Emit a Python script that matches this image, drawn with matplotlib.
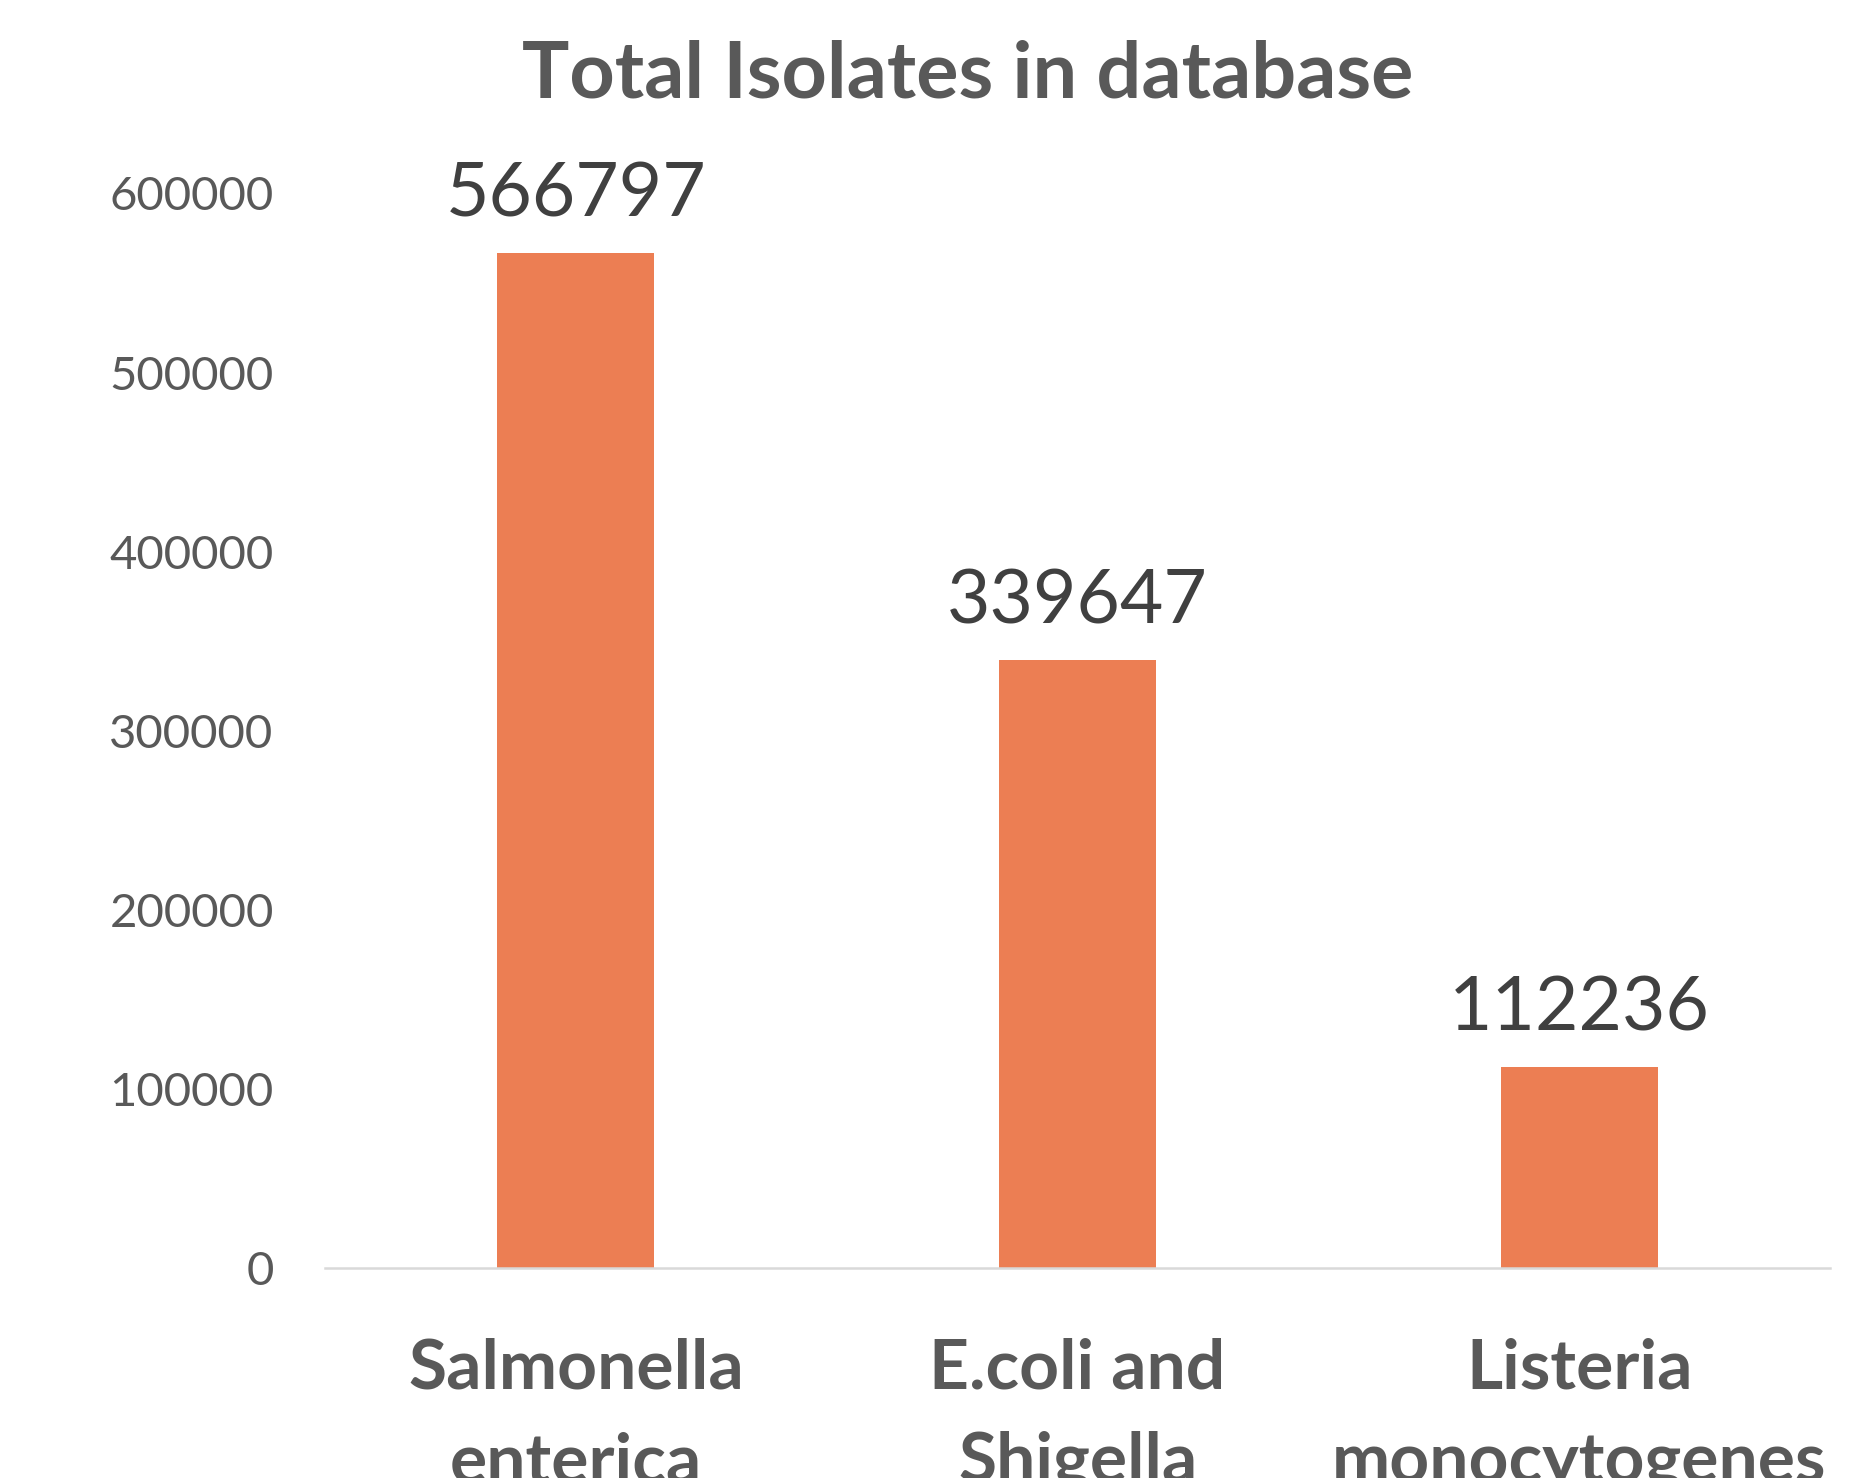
import matplotlib
matplotlib.use("Agg")
from matplotlib import pyplot as plt

categories = ["Salmonella\nenterica", "E.coli and\nShigella", "Listeria\nmonocytogenes"]
isolates = [566797, 339647, 112236]
yticks = [0, 100000, 200000, 300000, 400000, 500000, 600000]

plt.rcParams['font.family'] = ['Lato', 'DejaVu Sans']

fig = plt.figure(figsize=(18.51, 14.78), dpi=100)
ax = fig.add_axes([0.1756, 0.1421, 0.8131, 0.727])

x = range(len(categories))
bars = ax.bar(x, isolates, width=0.313, color='#EC7E53')

ax.set_xlim(-0.5, len(categories) - 0.5)
ax.set_ylim(0, 600000)
ax.set_yticks(yticks)
ax.set_yticklabels([str(v) for v in yticks], fontsize=34, color='#595959')
ax.set_xticks(list(x))
ax.set_xticklabels(categories, fontsize=50, fontweight='bold', color='#595959',
                   linespacing=1.6, va='top')

ax.tick_params(axis='y', length=0, pad=37)
ax.tick_params(axis='x', length=0, pad=50)

for side in ['top', 'right', 'left']:
    ax.spines[side].set_visible(False)
ax.spines['bottom'].set_color('#d9d9d9')
ax.spines['bottom'].set_linewidth(1.8)

for b, v in zip(bars, isolates):
    ax.annotate(str(v), (b.get_x() + b.get_width() / 2, v), xytext=(0, 17),
                textcoords='offset points', ha='center', va='bottom',
                fontsize=54, color='#404040')

fig.text(0.523, 0.934, "Total Isolates in database", ha='center', va='baseline',
         fontsize=57, fontweight='bold', color='#595959')

fig.savefig('out.png', dpi=100)
